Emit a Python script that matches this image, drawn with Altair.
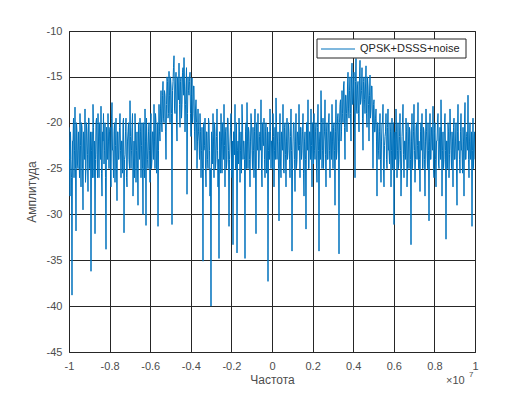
import altair as alt
import numpy as np
import pandas as pd

f_min, f_max = -1e7, 1e7

# amplitude read at whole-pixel positions
amp_left = [
    -20.5, -28, -24, -38.8, -22, -26, -18.3, -31.8, -21, -25,
    -23, -19, -27, -20.5, -29.5, -22, -18.5, -25, -21, -27.5,
    -19.5, -24, -36.2, -21, -18, -26, -32.1, -20, -23.5, -19,
    -26, -21.5, -18.2, -28, -22, -24.5, -20, -33.8, -22.5, -19,
    -25, -20.5, -27, -17.8, -23, -21, -26.5, -19.5, -28.5, -21,
    -24, -19, -26, -22, -20, -32, -23.5, -19.5, -27, -21,
    -24, -17.6, -25, -20.5, -28, -22, -19, -26.5, -21, -29,
    -22, -19.5, -26, -20, -30, -23, -18.5, -31.2, -22, -25,
    -20, -26.5, -19, -24, -21, -18, -25, -20, -23, -31.3,
    -18, -22, -16.5, -21, -15.5, -20, -17, -24, -15, -19.5,
    -14.4, -20, -16, -31.1, -15.5, -12.7, -19, -14.5, -22, -16,
    -13.5, -20.5, -15, -18, -14, -12.9, -21, -16, -27.8, -15,
    -17, -14.5, -21.5, -15.1, -19, -16, -23, -17.5, -25, -18.5,
]
amp_mid = [
    -22, -19, -26, -20.5, -35.1, -23, -19.5, -27, -21, -25,
    -20, -28, -40, -22, -19, -26, -21, -24, -18.5, -27,
    -34.8, -21, -19, -25.5, -22, -18, -27, -20.5, -24, -19.5,
    -31.3, -22, -19, -26, -33.3, -21, -18, -25, -34.2, -22,
    -19.5, -26.5, -21, -18, -24, -22, -34.8, -20, -17.8, -25,
    -21, -27, -19, -23, -20.5, -26, -18.5, -32.1, -22, -19,
    -25, -21, -17.5, -27, -22, -19.5, -26, -20, -23, -37.3,
    -21, -18.5, -25, -22, -19, -27, -20.5, -17.3, -24, -21,
    -30.7, -19, -26, -22, -18, -25.5, -20, -27, -19.5, -23,
    -21, -26, -18.5, -34, -22, -20, -27.5, -19, -24, -21.5,
    -18, -26, -20.5, -23, -19, -28, -21, -31.6, -20, -17.5,
    -25, -21, -18.5, -27, -22, -19, -24, -20, -26.5, -18,
    -34, -21, -16.5, -25, -19.5, -22, -17.5, -27, -20, -24,
    -19, -26, -21, -18, -25, -20, -29, -17.5, -23, -19,
]
amp_right = [
    -34.3, -18, -22, -16.5, -20, -15.5, -24, -17, -21, -14.5,
    -19.5, -15, -22, -13.5, -18, -14.5, -26, -13, -19, -15.5,
    -21, -13.2, -17.5, -14, -23, -15, -19, -13.8, -20.5, -16,
    -22, -14.8, -18.5, -16, -25, -17.5, -21, -18.5, -28, -20,
    -24, -19, -26.5, -20, -18, -27, -21.5, -19, -25, -18.5,
    -23, -20, -27, -19.5, -22, -31.1, -21, -18.5, -26, -20,
    -24, -19, -28, -21.5, -18, -26, -22, -19.5, -27, -20,
    -25, -21, -33.3, -19, -23, -18, -26.5, -20.5, -24, -17.8,
    -22, -27.5, -20, -19, -25, -21, -28, -18.5, -23, -20,
    -30.7, -19, -24, -21.5, -18.2, -26, -20, -27, -22, -19,
    -25, -20.5, -17.5, -28, -21, -24, -19, -32.7, -22, -20,
    -26, -18.5, -23, -21, -27, -19.5, -24, -20, -29, -18,
    -22, -25.5, -19, -23, -20.5, -28, -17.8, -24, -21, -17,
    -26, -20, -23, -31.3, -19.5, -22, -24,
]

# amplitude read between the whole-pixel positions
half_left = [
    -24, -21, -26, -22, -19.5, -23, -25, -20, -24.5, -21,
    -26, -22.5, -20, -25, -21, -24, -26.5, -20, -23.5, -19.5,
    -25, -21, -23, -26, -20.5, -22, -24, -19.5, -26, -22,
    -20, -24, -25.5, -21, -19, -23, -26, -20.5, -24, -22,
    -21, -25, -19.5, -23, -26, -20, -22.5, -25, -21, -24,
    -20.5, -23, -22, -25.5, -19.5, -24, -21, -26, -22, -20,
    -25, -21.5, -23, -19, -24.5, -26, -21, -23, -25, -20,
    -24, -21, -22.5, -25, -20, -26, -22, -19.5, -24, -21,
    -23, -20.5, -25, -21, -24, -22, -19, -25.5, -20, -23,
    -21, -18.5, -20, -17, -19.5, -16.5, -21, -18, -15.5, -19,
    -17, -15, -19, -16.5, -14, -18.5, -16, -20, -15, -17.5,
    -18, -15.5, -19.5, -14.5, -17, -16, -18, -14, -19, -16.5,
    -15.5, -19, -17, -20, -16, -21, -18.5, -20, -22, -21,
]
half_mid = [
    -24, -21, -23, -25, -20, -22.5, -25, -21, -24, -19.5,
    -23, -25, -21, -24.5, -22, -20, -25, -21.5, -23, -24,
    -21, -25.5, -22, -20, -24, -22.5, -21, -25, -19.5, -23,
    -24, -20.5, -25, -22, -21, -23.5, -25, -20, -23, -24.5,
    -21, -23, -25.5, -20, -22, -24, -21, -25, -22, -20.5,
    -24, -22, -20, -25, -23, -21, -24.5, -20, -23, -25,
    -21.5, -23, -25, -20, -22.5, -24, -21, -25.5, -20.5, -23,
    -24, -21, -22, -25, -21.5, -23, -24, -20, -22, -25,
    -22, -24.5, -21, -23, -25, -20.5, -23.5, -22, -24, -20,
    -24, -21.5, -23, -25, -20, -24, -22, -25, -21, -23,
    -22.5, -20.5, -24, -21, -25.5, -22, -24, -20, -23, -25,
    -21, -24, -22.5, -20, -24.5, -23, -21, -25, -20.5, -23,
    -22, -24, -20, -23, -25, -21, -23.5, -21, -24, -20,
    -23, -21, -24, -22, -20.5, -23, -21, -24, -19.5, -22,
]
half_right = [
    -20, -17.5, -21, -19, -16, -20.5, -17, -19, -16, -18.5,
    -16.5, -19, -15, -18, -16, -20, -15.5, -18.5, -16, -19,
    -15, -18, -16.5, -19.5, -15.5, -17.5, -16, -19, -15, -18,
    -17, -19.5, -16, -20, -18, -21, -19.5, -22, -20, -23,
    -21, -24, -22, -20, -25, -22.5, -21, -24, -20.5, -23,
    -24.5, -21, -23, -25, -20, -22, -24, -21, -23, -25,
    -21.5, -23, -25, -20, -23.5, -22, -24, -21, -25, -22,
    -20.5, -24, -22, -25, -21, -23, -24, -20, -22.5, -25,
    -24, -21, -23, -25, -20.5, -24, -22, -21, -25, -23,
    -22, -24, -20.5, -23, -25, -21, -24, -22, -20, -24.5,
    -22, -24, -21, -23, -25, -20, -23, -22, -25, -21,
    -23.5, -21, -25, -22, -20.5, -24, -22, -25, -21, -23,
    -24, -21, -23, -25.5, -22, -20, -24, -21.5, -23, -24,
    -22, -24, -21, -23, -25, -21, -22.5,
]

amps = amp_left + amp_mid + amp_right
halves = half_left + half_mid + half_right
series_vals = []
for a, h in zip(amps, halves):
    series_vals.append(a)
    series_vals.append(h)
series_vals = series_vals[:-1]

freqs = np.linspace(f_min, f_max, len(series_vals))
df = pd.DataFrame({"freq": freqs, "amp": series_vals})

x_ticks = [-1e7, -8e6, -6e6, -4e6, -2e6, 0, 2e6, 4e6, 6e6, 8e6, 1e7]
y_ticks = [-45, -40, -35, -30, -25, -20, -15, -10]
legend_label = "QPSK+DSSS+noise"

FONT = "Liberation Sans"
TXT = "#4d4d4d"
BLUE = "#0072BD"

line = alt.Chart(df).mark_line(strokeWidth=1.0, clip=True, color=BLUE).encode(
    x=alt.X("freq:Q", scale=alt.Scale(domain=[f_min, f_max], nice=False, zero=False),
            axis=alt.Axis(values=x_ticks, title="Частота",
                          labelExpr="(round(datum.value/1e6)/10) + ''",
                          grid=True, ticks=False, domain=False, labelFlush=False,
                          labelPadding=8, titlePadding=3)),
    y=alt.Y("amp:Q", scale=alt.Scale(domain=[-45, -10], nice=False, zero=False),
            axis=alt.Axis(values=y_ticks, title="Амплитуда", grid=True, ticks=False,
                          labelExpr="datum.value + ''", labelFlush=False,
                          domain=False, labelPadding=7, titlePadding=8)),
)

leg = pd.DataFrame({"label": [legend_label]})
leg_box = alt.Chart(leg).mark_rect(fill="white", stroke="#262626", strokeWidth=1).encode(
    x=alt.value(248), x2=alt.value(397), y=alt.value(8), y2=alt.value(27))
leg_line = alt.Chart(leg).mark_rule(color=BLUE, strokeWidth=1.2).encode(
    x=alt.value(252), x2=alt.value(286), y=alt.value(18))
leg_text = alt.Chart(leg).mark_text(font=FONT, fontSize=11, color="#262626",
                                    align="left", baseline="middle").encode(
    x=alt.value(291), y=alt.value(18), text="label:N")

exp_base = alt.Chart(leg).mark_text(font=FONT, fontSize=11, color=TXT, align="left",
                                    baseline="middle").encode(
    x=alt.value(377), y=alt.value(350), text=alt.value("×10"))
exp_sup = alt.Chart(leg).mark_text(font=FONT, fontSize=8, color=TXT, align="left",
                                   baseline="middle").encode(
    x=alt.value(400), y=alt.value(344), text=alt.value("7"))

chart = alt.layer(line, leg_box, leg_line, leg_text, exp_base, exp_sup).properties(
    width=406, height=321,
    autosize=alt.AutoSizeParams(type="none"),
    padding={"left": 61, "top": 23, "right": 40, "bottom": 33},
).configure_view(stroke="#262626", strokeWidth=1).configure_axis(
    gridColor="#262626", gridOpacity=1, gridWidth=1,
    labelFont=FONT, labelFontSize=11, labelColor=TXT,
    titleFont=FONT, titleFontSize=12, titleColor=TXT, titleFontWeight="normal",
)

chart.save("out.html", embed_options={"renderer": "svg", "actions": False})
